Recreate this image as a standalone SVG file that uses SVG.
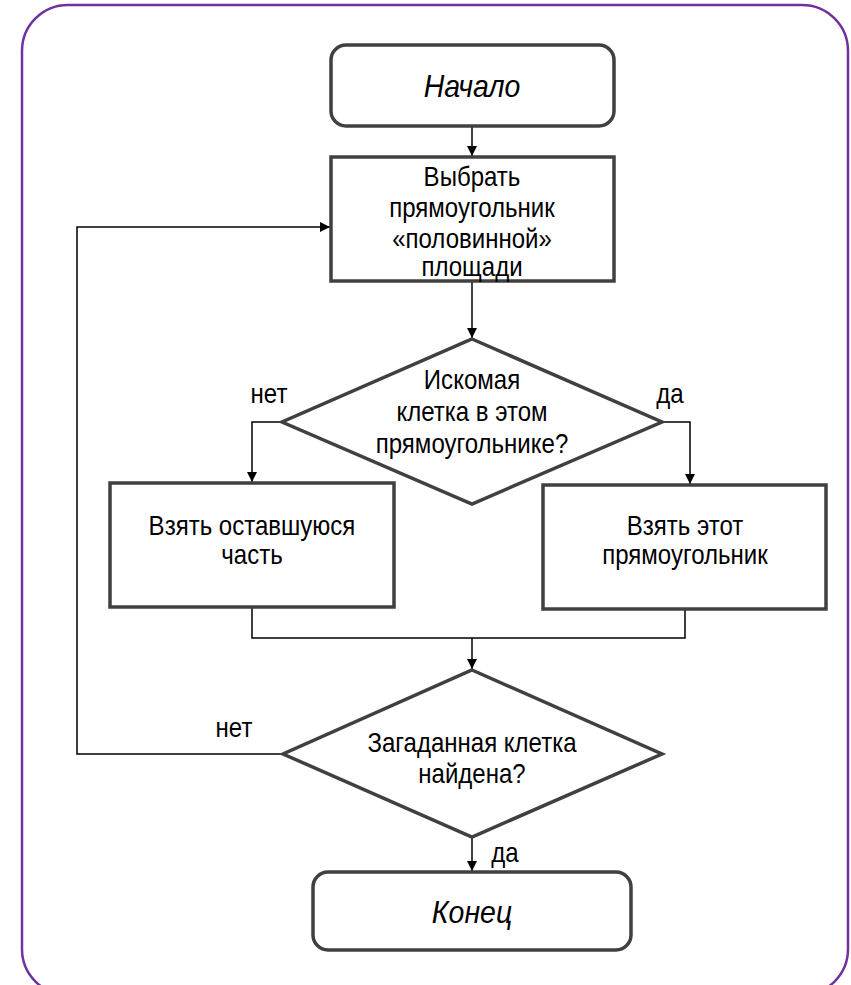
<svg xmlns="http://www.w3.org/2000/svg" width="851" height="985" viewBox="0 0 851 985">
<defs>
<marker id="ah" viewBox="0 0 10 10" refX="10" refY="5" markerWidth="10" markerHeight="10" markerUnits="userSpaceOnUse" orient="auto">
<path d="M0,0 L10,5 L0,10 Z" fill="#000"/>
</marker>
<style>
.frame{fill:#fff;stroke:#7030A0;stroke-width:2.5}
.node{fill:#fff;stroke:#404040;stroke-width:3.5}
.conn{fill:none;stroke:#000;stroke-width:1.5}
.t{font-family:"Liberation Sans",Arial,sans-serif;font-size:27px;fill:#000;text-anchor:middle}
.ti{font-family:"Liberation Sans",Arial,sans-serif;font-size:32px;font-style:italic;fill:#000;text-anchor:middle}
</style>
</defs>
<rect class="frame" x="22" y="5" width="826" height="990" rx="46" ry="46"/>
<g id="connectors">
<path class="conn" d="M472,127 L472,156" marker-end="url(#ah)"/>
<path class="conn" d="M472,282 L472,338" marker-end="url(#ah)"/>
<path class="conn" d="M282,422 L252,422 L252,482" marker-end="url(#ah)"/>
<path class="conn" d="M662,422 L690,422 L690,484" marker-end="url(#ah)"/>
<path class="conn" d="M252,608 L252,638 L685,638 L685,609"/>
<path class="conn" d="M472,638 L472,669" marker-end="url(#ah)"/>
<path class="conn" d="M283,754 L77,754 L77,227 L330,227" marker-end="url(#ah)"/>
<path class="conn" d="M472,837 L472,871" marker-end="url(#ah)"/>
</g>
<g id="start">
<rect class="node" x="331" y="45" width="283" height="81" rx="15" ry="15"/>
<text class="ti" transform="translate(472,97) scale(0.89,1)">Начало</text>
</g>
<g id="select">
<rect class="node" x="331" y="157" width="283" height="124"/>
<text class="t" transform="translate(472,186) scale(0.89,1)">Выбрать</text>
<text class="t" transform="translate(472,217) scale(0.89,1)">прямоугольник</text>
<text class="t" transform="translate(472,248) scale(0.89,1)">«половинной»</text>
<text class="t" transform="translate(472,276) scale(0.89,1)">площади</text>
</g>
<g id="decision1">
<polygon class="node" points="472,339 662,422 472,504 282,422"/>
<text class="t" transform="translate(472,389) scale(0.89,1)">Искомая</text>
<text class="t" transform="translate(472,421) scale(0.89,1)">клетка в этом</text>
<text class="t" transform="translate(472,453) scale(0.89,1)">прямоугольнике?</text>
</g>
<text class="t" transform="translate(269,403) scale(0.89,1)">нет</text>
<text class="t" transform="translate(670,403) scale(0.89,1)">да</text>
<g id="rest">
<rect class="node" x="110" y="483" width="284" height="124"/>
<text class="t" transform="translate(252,535) scale(0.89,1)">Взять оставшуюся</text>
<text class="t" transform="translate(252,564) scale(0.89,1)">часть</text>
</g>
<g id="take">
<rect class="node" x="543" y="485" width="283" height="124"/>
<text class="t" transform="translate(685,535) scale(0.89,1)">Взять этот</text>
<text class="t" transform="translate(685,564) scale(0.89,1)">прямоугольник</text>
</g>
<g id="decision2">
<polygon class="node" points="472,670 662,754 472,837 283,754"/>
<text class="t" transform="translate(472,752) scale(0.89,1)">Загаданная клетка</text>
<text class="t" transform="translate(472,783) scale(0.89,1)">найдена?</text>
</g>
<text class="t" transform="translate(234,737) scale(0.89,1)">нет</text>
<text class="t" transform="translate(505,862) scale(0.89,1)">да</text>
<g id="end">
<rect class="node" x="313" y="872" width="318" height="78" rx="15" ry="15"/>
<text class="ti" transform="translate(472,923) scale(0.89,1)">Конец</text>
</g>
</svg>
